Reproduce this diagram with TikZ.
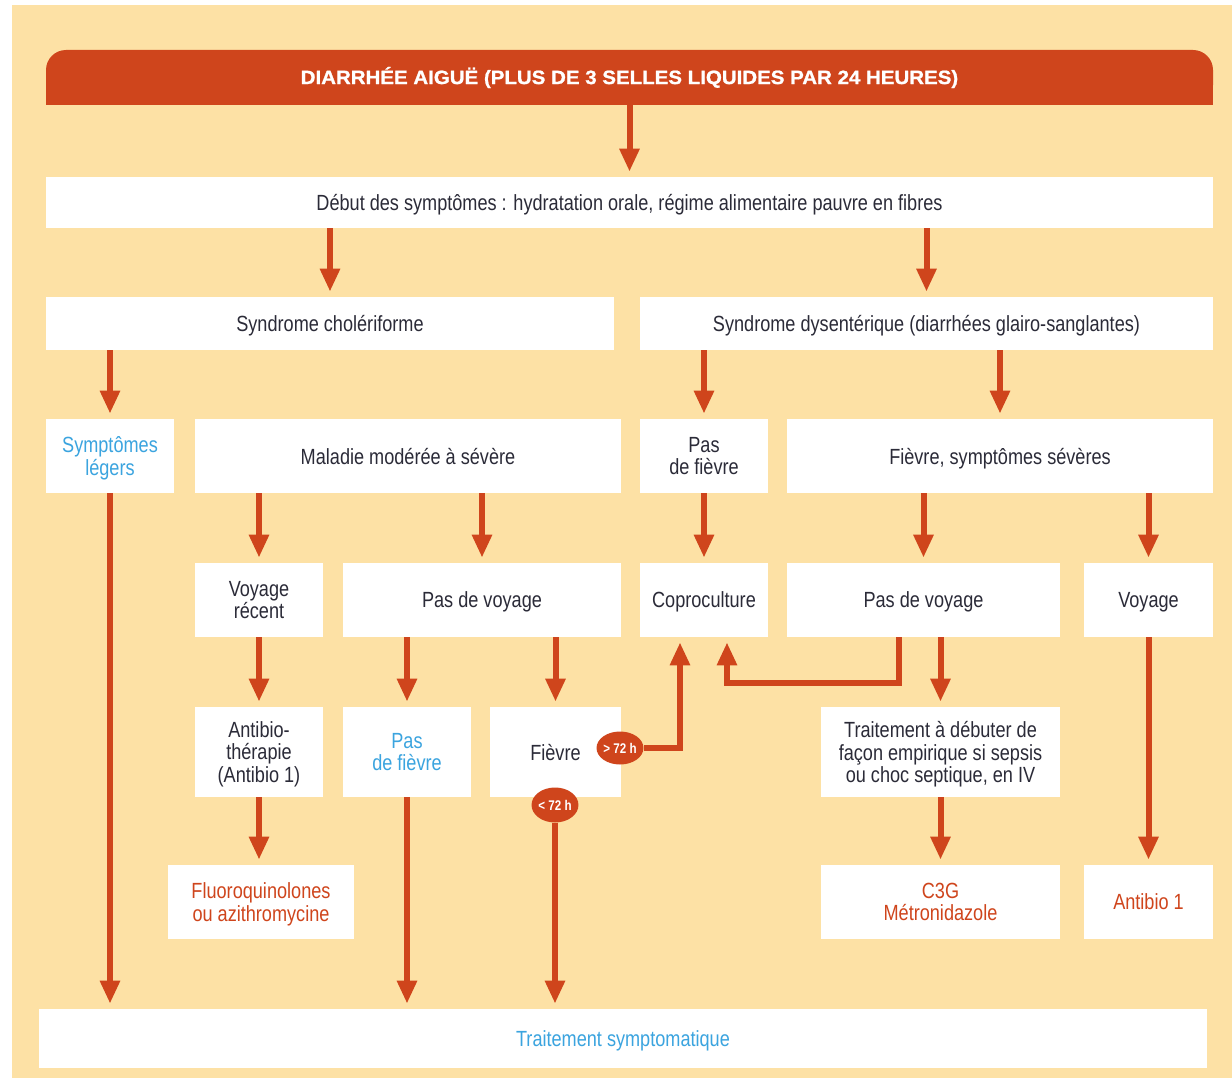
\documentclass[tikz,border=0pt]{standalone}
\usepackage{fontspec}
\setmainfont{Liberation Sans}[FakeStretch=0.825]
\newfontfamily\headfont{Liberation Sans}[FakeStretch=1.06, FakeBold=1]
\usetikzlibrary{arrows.meta,shapes.geometric}

\definecolor{bgorange}{HTML}{FDE1A5}
\definecolor{tred}{HTML}{CF451C}
\definecolor{tblue}{HTML}{3BA4DF}
\definecolor{tdark}{HTML}{2B2B38}

\tikzset{
  sz/.style 2 args={minimum width=#1*0.02cm, minimum height=#2*0.02cm},
  box/.style={fill=white, inner sep=0pt, align=center, text=tdark, text depth=-7pt,
    font=\fontsize{12.5}{12.8}\selectfont},
  bluetext/.style={text=tblue},
  redtext/.style={text=tred},
  arr/.style={line width=0.12cm, draw=tred,
    -{Triangle[width=0.38cm,length=0.46cm]}, shorten >=0.1cm},
  delay/.style={ellipse, fill=tred, text=white, inner sep=0pt,
    font=\bfseries\fontsize{8}{8}\selectfont},
}

\begin{document}
\begin{tikzpicture}[x=0.02cm, y=-0.02cm]

\useasboundingbox (0,0) rectangle (1232,1078);

% Draw the background
\fill [bgorange] (12,5) rectangle (1232,1078);

% Draw the title bar
\fill [tred] (46,78) rectangle (1213,105);
\node [sz={1167}{55}, fill=tred, rounded corners=0.4cm, text=white,
  font=\headfont\bfseries\fontsize{11}{11}\selectfont] (head) at (629.5,77.5)
  {DIARRHÉE AIGUË (PLUS DE 3 SELLES LIQUIDES PAR 24 HEURES)};

% Boxes, row by row
\node [box, sz={1167}{51}] (b1) at (629.5,202.5)
  {Début des symptômes : hydratation orale, régime alimentaire pauvre en fibres};

\node [box, sz={568}{53}] (s1) at (330,323.5) {Syndrome cholériforme};
\node [box, sz={573}{53}] (s2) at (926.5,323.5) {Syndrome dysentérique (diarrhées glairo-sanglantes)};

\node [box, bluetext, sz={128}{74}] (r3a) at (110,456) {Symptômes\\légers};
\node [box, sz={426}{74}] (r3b) at (408,456) {Maladie modérée à sévère};
\node [box, sz={128}{74}] (r3c) at (704,456) {Pas\\de fièvre};
\node [box, sz={426}{74}] (r3d) at (1000,456) {Fièvre, symptômes sévères};

\node [box, sz={128}{74}] (r4a) at (259,600) {Voyage\\récent};
\node [box, sz={278}{74}] (r4b) at (482,600) {Pas de voyage};
\node [box, sz={128}{74}] (r4c) at (704,600) {Coproculture};
\node [box, sz={273}{74}] (r4d) at (923.5,600) {Pas de voyage};
\node [box, sz={129}{74}] (r4e) at (1148.5,600) {Voyage};

\node [box, sz={128}{90}] (r5a) at (259,752) {Antibio-\\thérapie\\(Antibio 1)};
\node [box, bluetext, sz={128}{90}] (r5b) at (407,752) {Pas\\de fièvre};
\node [box, sz={131}{90}] (r5c) at (555.5,752) {Fièvre};
\node [box, sz={239}{90}] (r5d) at (940.5,752)
  {Traitement à débuter de\\façon empirique si sepsis\\ou choc septique, en IV};

\node [box, redtext, sz={186}{74}] (r6a) at (261,902) {Fluoroquinolones\\ou azithromycine};
\node [box, redtext, sz={239}{74}] (r6b) at (940.5,902) {C3G\\Métronidazole};
\node [box, redtext, sz={129}{74}] (r6c) at (1148.5,902) {Antibio 1};

\node [box, bluetext, sz={1168}{59}] (bot) at (623,1038.5) {Traitement symptomatique};

% Delay badges on the Fièvre box
\node [delay, sz={40}{33}] (gt72) at (620,748) {> 72 h};
\node [delay, sz={41}{35}] (lt72) at (555,805) {< 72 h};

% Arrows
\draw [arr] (head.south) -- (head.south |- b1.north);
\draw [arr] (s1.north |- b1.south) -- (s1.north);
\draw [arr] (s2.north |- b1.south) -- (s2.north);

\draw [arr] (r3a.north |- s1.south) -- (r3a.north);
\draw [arr] (r3c.north |- s2.south) -- (r3c.north);
\draw [arr] (r3d.north |- s2.south) -- (r3d.north);

\draw [arr] (r4a.north |- r3b.south) -- (r4a.north);
\draw [arr] (r4b.north |- r3b.south) -- (r4b.north);
\draw [arr] (r3c.south) -- (r4c.north);
\draw [arr] (r4d.north |- r3d.south) -- (r4d.north);
\draw [arr] (r4e.north |- r3d.south) -- (r4e.north);

\draw [arr] (r4a.south) -- (r5a.north);
\draw [arr] (r5b.north |- r4b.south) -- (r5b.north);
\draw [arr] (r5c.north |- r4b.south) -- (r5c.north);
\draw [arr] (r5d.north |- r4d.south) -- (r5d.north);

\draw [arr] (r5a.south) -- (r5a.south |- r6a.north);
\draw [arr] (r5d.south) -- (r6b.north);
\draw [arr] (r4e.south) -- (r6c.north);

% back to the Coproculture
\draw [arr] (gt72.east) -| ([xshift=-0.48cm]r4c.south);
\draw [arr] ([xshift=-0.49cm]r4d.south) -- ++(0,46) -| ([xshift=0.46cm]r4c.south);

% down to the symptomatic treatment
\draw [arr] (r3a.south) -- (r3a.south |- bot.north);
\draw [arr] (r5b.south) -- (r5b.south |- bot.north);
\draw [arr] (lt72.south) -- (lt72.south |- bot.north);

\end{tikzpicture}
\end{document}
